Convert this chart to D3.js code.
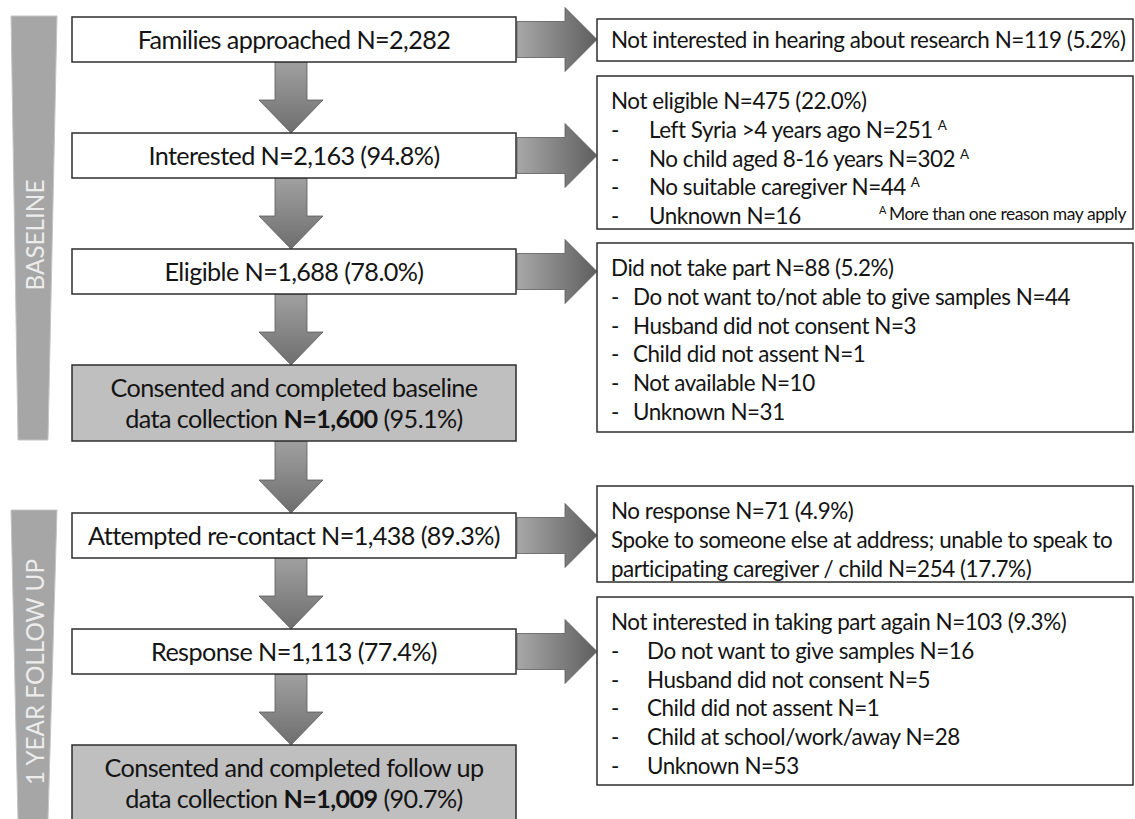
<!DOCTYPE html>
<html>
<head>
<meta charset="utf-8">
<script src="https://cdn.jsdelivr.net/npm/d3@7"></script>
<style>
	body { margin: 0; background: #fff; }
	svg { display: block; }
	text { font-family: Lato, "Open Sans", sans-serif; fill: #141414; }
</style>
</head>
<body>
<svg id="chart" width="1135" height="819"></svg>
<script>
(function() {

	// left column: one box per stage
	var stageLines = [
		['Families approached'],
		['Interested'],
		['Eligible'],
		['Consented and completed baseline', 'data collection'],
		['Attempted re-contact'],
		['Response'],
		['Consented and completed follow up', 'data collection']
	]
	var stageN = ['2,282', '2,163', '1,688', '1,600', '1,438', '1,113', '1,009']
	var stagePct = [null, '94.8%', '78.0%', '95.1%', '89.3%', '77.4%', '90.7%']
	var stagePhase = [0, 0, 0, 0, 1, 1, 1]
	var stageFinal = [false, false, false, true, false, false, true]

	var phaseLabels = ['BASELINE', '1 YEAR FOLLOW UP']

	// right column: who dropped out after each stage
	var exitFrom = [0, 1, 2, 4, 5]
	var exitHeads = [
		['Not interested in hearing about research N=119 (5.2%)'],
		['Not eligible N=475 (22.0%)'],
		['Did not take part N=88 (5.2%)'],
		['No response N=71 (4.9%)', 'Spoke to someone else at address; unable to speak to', 'participating caregiver / child N=254 (17.7%)'],
		['Not interested in taking part again N=103 (9.3%)']
	]
	var exitItems = [
		[],
		['Left Syria >4 years ago N=251', 'No child aged 8-16 years N=302', 'No suitable caregiver N=44', 'Unknown N=16'],
		['Do not want to/not able to give samples N=44', 'Husband did not consent N=3', 'Child did not assent N=1', 'Not available N=10', 'Unknown N=31'],
		[],
		['Do not want to give samples N=16', 'Husband did not consent N=5', 'Child did not assent N=1', 'Child at school/work/away N=28', 'Unknown N=53']
	]
	var exitItemMark = [
		[],
		['A', 'A', 'A', null],
		[null, null, null, null, null],
		[],
		[null, null, null, null, null]
	]
	var footnoteMark = 'A'
	var footnoteText = 'More than one reason may apply'

	// layout
	var svg = d3.select('#chart')
	var box = { x0: 72, x1: 516 }
	var arrowCx = 291
	var rowStep = 116
	var phaseGap = 32
	var exitBox = { x0: 597, x1: 1133, textX: 611 }
	var exitTop = [19, 76, 243, 486, 597]
	var exitBottom = [61, 229, 432, 582, 785]
	var exitIndent = [0, 38, 22, 0, 36]
	var lineStep = 28.8
	var tightLeft = -0.6
	var tightRight = -0.45

	var y = d3.scaleLinear().domain([0, stageLines.length - 1]).range([17, 17 + (stageLines.length - 1) * rowStep])

	function boxTop(i) { return y(i) + stagePhase[i] * phaseGap }
	function boxH(i) { return stageFinal[i] ? 76 : 45 }
	function boxMid(i) { return boxTop(i) + boxH(i) / 2 }

	function measure(str, size, weight, spacing) {
		var t = svg.append('text').attr('font-size', size).attr('font-weight', weight || 400)
			.attr('letter-spacing', spacing || 0).text(str)
		var w = t.node().getComputedTextLength()
		t.remove()
		return w
	}

	var leftSize = 22 * 284 / measure('Response N=1,113 (77.4%)', 22, 400, tightLeft)
	var rightSize = 21 * 454 / measure('Not interested in taking part again N=103 (9.3%)', 21, 400, tightRight)
	var bannerSize = 20 * 226 / measure('1 YEAR FOLLOW UP', 20, 400)
	var noteSize = 16 * 236 / measure(footnoteText, 16, 400, tightRight)

	// gradients for the arrows
	var defs = svg.append('defs')
	var gDown = defs.append('linearGradient').attr('id', 'gradDown')
		.attr('x1', 0).attr('y1', 0).attr('x2', 0).attr('y2', 1)
	gDown.append('stop').attr('offset', 0).attr('stop-color', '#a0a0a0')
	gDown.append('stop').attr('offset', 1).attr('stop-color', '#6e6e6e')
	var gRight = defs.append('linearGradient').attr('id', 'gradRight')
		.attr('x1', 0).attr('y1', 0).attr('x2', 1).attr('y2', 0)
	gRight.append('stop').attr('offset', 0).attr('stop-color', '#a8a8a8')
	gRight.append('stop').attr('offset', 1).attr('stop-color', '#5e5e5e')

	// phase banners down the left edge
	var phases = phaseLabels.map(function(label, p) {
		var idx = d3.range(stageLines.length).filter(function(i) { return stagePhase[i] === p })
		var first = idx[0], last = idx[idx.length - 1]
		return { label: label, top: boxTop(first) - (p ? 3 : 1), bottom: boxTop(last) + boxH(last) - 1 }
	})

	var banners = svg.append('g').attr('class', 'banners')
		.selectAll('g').data(phases).enter().append('g')

	banners.append('path')
		.attr('d', function(d) {
			return 'M11,' + d.top + 'L57,' + d.top + 'L48,' + d.bottom + 'L18,' + d.bottom + 'Z'
		})
		.attr('fill', '#a6a6a6')
		.attr('stroke', '#c4c4c4')
		.attr('stroke-width', 1)

	banners.append('text')
		.attr('transform', function(d) { return 'translate(35,' + ((d.top + d.bottom) / 2 + 7) + ')rotate(-90)' })
		.attr('text-anchor', 'middle')
		.attr('dy', '0.36em')
		.attr('font-size', bannerSize)
		.attr('font-weight', 400)
		.style('fill', '#ececec')
		.text(function(d) { return d.label })

	// down arrows between stages
	var downs = d3.range(stageLines.length - 1)
	var aw = 16, hw = 32, hl = 33

	svg.append('g').attr('class', 'arrows-down')
		.selectAll('path').data(downs).enter().append('path')
		.attr('d', function(i) {
			var y0 = boxTop(i) + boxH(i), y1 = boxTop(i + 1), yh = y1 - hl
			return 'M' + (arrowCx - aw) + ',' + y0 + 'L' + (arrowCx + aw) + ',' + y0 +
				'L' + (arrowCx + aw) + ',' + yh + 'L' + (arrowCx + hw) + ',' + yh +
				'L' + arrowCx + ',' + y1 + 'L' + (arrowCx - hw) + ',' + yh +
				'L' + (arrowCx - aw) + ',' + yh + 'Z'
		})
		.attr('fill', 'url(#gradDown)')
		.attr('stroke', '#5c5c5c')
		.attr('stroke-width', 0.8)

	// right arrows to the exclusion boxes
	var rsh = 18, rhh = 32, rhl = 32
	svg.append('g').attr('class', 'arrows-right')
		.selectAll('path').data(exitFrom).enter().append('path')
		.attr('d', function(i) {
			var cy = boxMid(i), x0 = box.x1 + 1, x1 = exitBox.x0, xh = x1 - rhl
			return 'M' + x0 + ',' + (cy - rsh) + 'L' + xh + ',' + (cy - rsh) +
				'L' + xh + ',' + (cy - rhh) + 'L' + x1 + ',' + cy +
				'L' + xh + ',' + (cy + rhh) + 'L' + xh + ',' + (cy + rsh) +
				'L' + x0 + ',' + (cy + rsh) + 'Z'
		})
		.attr('fill', 'url(#gradRight)')
		.attr('stroke', '#5c5c5c')
		.attr('stroke-width', 0.8)

	// stage boxes
	var stages = svg.append('g').attr('class', 'stages')
		.selectAll('g').data(d3.range(stageLines.length)).enter().append('g')

	stages.append('rect')
		.attr('x', box.x0)
		.attr('y', boxTop)
		.attr('width', box.x1 - box.x0)
		.attr('height', boxH)
		.attr('fill', function(i) { return stageFinal[i] ? '#bfbfbf' : '#fff' })
		.attr('stroke', '#2e2e2e')
		.attr('stroke-width', 1.5)

	stages.each(function(i) {
		var g = d3.select(this)
		var lines = stageLines[i]
		var cx = (box.x0 + box.x1) / 2
		var lh = 31
		var firstY = boxMid(i) - (lines.length - 1) * lh / 2
		lines.forEach(function(line, k) {
			var t = g.append('text')
				.attr('x', cx)
				.attr('y', firstY + k * lh)
				.attr('dy', '0.36em')
				.attr('text-anchor', 'middle')
				.attr('font-size', leftSize)
				.attr('letter-spacing', tightLeft)
			if (k < lines.length - 1) { t.text(line); return }
			t.append('tspan').text(line + ' ')
			t.append('tspan').attr('font-weight', stageFinal[i] ? 700 : 400).text('N=' + stageN[i])
			if (stagePct[i]) t.append('tspan').text(' (' + stagePct[i] + ')')
		})
	})

	// exclusion boxes
	var exits = svg.append('g').attr('class', 'exits')
		.selectAll('g').data(d3.range(exitFrom.length)).enter().append('g')

	exits.append('rect')
		.attr('x', exitBox.x0)
		.attr('y', function(j) { return exitTop[j] })
		.attr('width', exitBox.x1 - exitBox.x0)
		.attr('height', function(j) { return exitBottom[j] - exitTop[j] })
		.attr('fill', '#fff')
		.attr('stroke', '#2e2e2e')
		.attr('stroke-width', 1.5)

	exits.each(function(j) {
		var g = d3.select(this)
		var single = exitHeads[j].length === 1 && exitItems[j].length === 0
		var y0 = single ? (exitTop[j] + exitBottom[j]) / 2 : exitTop[j] + 25
		var k = 0
		exitHeads[j].forEach(function(line) {
			g.append('text')
				.attr('x', exitBox.textX)
				.attr('y', y0 + lineStep * k++)
				.attr('dy', '0.36em')
				.attr('font-size', rightSize)
				.attr('letter-spacing', tightRight)
				.text(line)
		})
		exitItems[j].forEach(function(item, m) {
			var yy = y0 + lineStep * k++
			g.append('text')
				.attr('x', exitBox.textX)
				.attr('y', yy)
				.attr('dy', '0.36em')
				.attr('font-size', rightSize)
				.text('-')
			var t = g.append('text')
				.attr('x', exitBox.textX + exitIndent[j])
				.attr('y', yy)
				.attr('dy', '0.36em')
				.attr('font-size', rightSize)
				.attr('letter-spacing', tightRight)
			t.append('tspan').text(item)
			var mark = exitItemMark[j][m]
			if (mark) {
				t.append('tspan').attr('dx', 5).attr('dy', -8).attr('font-size', rightSize * 0.6).text(mark)
			}
		})
	})

	// footnote inside the "Not eligible" box
	var note = svg.append('text')
		.attr('x', 879)
		.attr('y', exitBottom[1] - 9)
		.attr('font-size', noteSize)
		.attr('letter-spacing', tightRight)
	note.append('tspan').attr('font-size', noteSize * 0.62).attr('dy', -6).text(footnoteMark)
	note.append('tspan').attr('dx', 3).attr('dy', 6).text(footnoteText)

})()
</script>
</body>
</html>
